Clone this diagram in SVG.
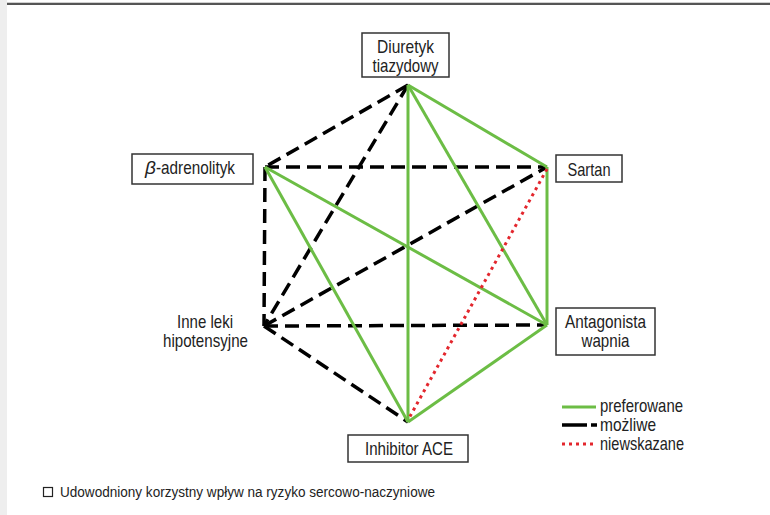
<svg xmlns="http://www.w3.org/2000/svg" width="770" height="515" viewBox="0 0 770 515">
<style>
.box{fill:#fff;stroke:#333;stroke-width:1.5}
.t{font-family:"Liberation Sans",Arial,sans-serif;font-size:19px;fill:#222}
.ft{font-family:"Liberation Sans",Arial,sans-serif;font-size:14px;fill:#222}
.g{stroke:#6cbd45;stroke-width:3;fill:none}
.k{stroke:#000;stroke-width:3.5;fill:none;stroke-dasharray:14 7}
.r{stroke:#e3262d;stroke-width:3;fill:none;stroke-dasharray:3 4}
</style>
<rect x="0" y="0" width="770" height="515" fill="#fff"/>
<rect x="0" y="0" width="7" height="515" fill="#eeeeee"/>
<rect x="7" y="2" width="763" height="1" fill="#cfcfcf"/>
<rect x="7" y="3" width="763" height="2" fill="#555"/>
<g id="connectors">
<line class="k" x1="408" y1="85" x2="265" y2="167"/>
<line class="k" x1="408" y1="85" x2="264" y2="326"/>
<line class="k" x1="265" y1="167" x2="547" y2="167"/>
<line class="k" x1="265" y1="167" x2="264" y2="326"/>
<line class="k" x1="264" y1="326" x2="547" y2="167"/>
<line class="k" x1="264" y1="326" x2="547" y2="325"/>
<line class="k" x1="264" y1="326" x2="408" y2="422"/>
<line class="g" x1="408" y1="85" x2="408" y2="422"/>
<line class="g" x1="408" y1="85" x2="547" y2="167"/>
<line class="g" x1="408" y1="85" x2="547" y2="325"/>
<line class="g" x1="547" y1="167" x2="547" y2="325"/>
<line class="g" x1="265" y1="167" x2="547" y2="325"/>
<line class="g" x1="265" y1="167" x2="408" y2="422"/>
<line class="g" x1="547" y1="325" x2="408" y2="422"/>
<line class="r" x1="547" y1="169" x2="408" y2="420"/>
</g>
<g id="diuretyk">
<rect class="box" x="362" y="33" width="87" height="44"/>
<text class="t" x="405.5" y="53" text-anchor="middle" textLength="57" lengthAdjust="spacingAndGlyphs">Diuretyk</text>
<text class="t" x="405.5" y="72" text-anchor="middle" textLength="66" lengthAdjust="spacingAndGlyphs">tiazydowy</text>
</g>
<g id="sartan">
<rect class="box" x="556" y="155" width="66" height="27"/>
<text class="t" x="589" y="176" text-anchor="middle" textLength="43" lengthAdjust="spacingAndGlyphs">Sartan</text>
</g>
<g id="antagonista">
<rect class="box" x="556" y="308" width="99" height="47"/>
<text class="t" x="605.5" y="328" text-anchor="middle" textLength="81" lengthAdjust="spacingAndGlyphs">Antagonista</text>
<text class="t" x="605.5" y="347" text-anchor="middle" textLength="48" lengthAdjust="spacingAndGlyphs">wapnia</text>
</g>
<g id="inhibitor">
<rect class="box" x="348" y="435" width="120" height="27"/>
<text class="t" x="409" y="455" text-anchor="middle" textLength="88" lengthAdjust="spacingAndGlyphs">Inhibitor ACE</text>
</g>
<g id="inne">
<text class="t" x="205" y="328" text-anchor="middle" textLength="56" lengthAdjust="spacingAndGlyphs">Inne leki</text>
<text class="t" x="205.5" y="347" text-anchor="middle" textLength="85" lengthAdjust="spacingAndGlyphs">hipotensyjne</text>
</g>
<g id="beta">
<rect class="box" x="132" y="154" width="121" height="30"/>
<text class="t" x="145" y="174" font-style="italic">β</text>
<text class="t" x="156" y="174" textLength="79" lengthAdjust="spacingAndGlyphs">-adrenolityk</text>
</g>
<g id="legend">
<line class="g" x1="562" y1="407" x2="596" y2="407"/>
<line stroke="#000" stroke-width="3.5" x1="562" y1="425" x2="587" y2="425"/>
<line stroke="#000" stroke-width="3.5" x1="591" y1="425" x2="597" y2="425"/>
<line class="r" x1="562" y1="444" x2="597" y2="444" stroke-dasharray="4 5"/>
<text class="t" x="600" y="412" textLength="83" lengthAdjust="spacingAndGlyphs">preferowane</text>
<text class="t" x="600" y="431" textLength="56" lengthAdjust="spacingAndGlyphs">możliwe</text>
<text class="t" x="600" y="450" textLength="84" lengthAdjust="spacingAndGlyphs">niewskazane</text>
</g>
<g id="footer">
<rect x="43.5" y="487.5" width="9" height="9" fill="#fff" stroke="#222" stroke-width="1.2"/>
<text class="ft" x="60" y="497" textLength="375" lengthAdjust="spacingAndGlyphs">Udowodniony korzystny wpływ na ryzyko sercowo-naczyniowe</text>
</g>
</svg>
